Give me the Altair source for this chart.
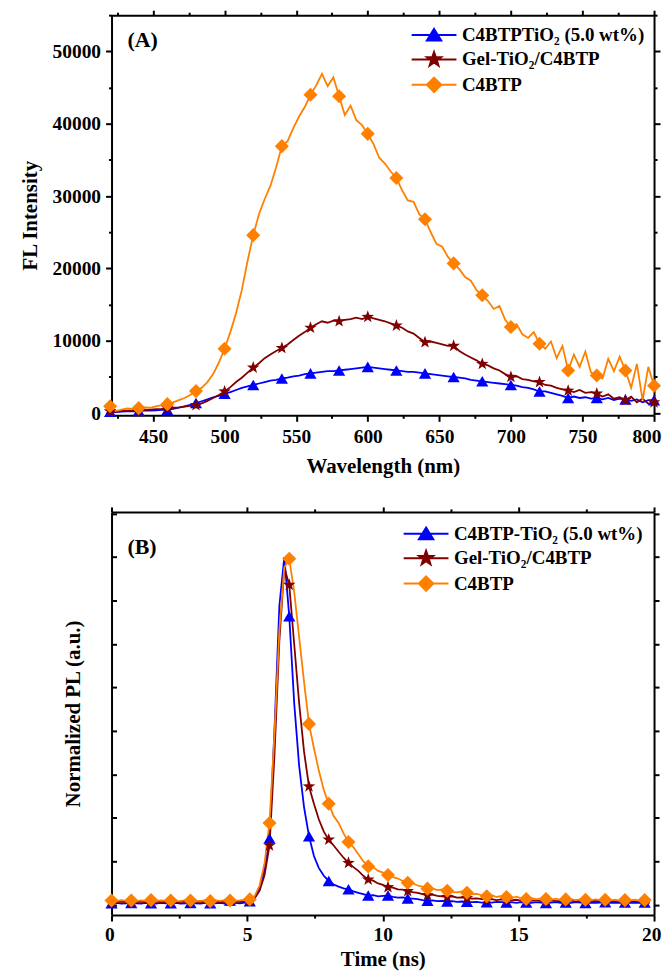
import altair as alt
import pandas as pd

FONT = "Liberation Serif"

# ---------------- Panel (A): steady-state FL spectra ----------------
a_names = ["C4BTPTiO₂ (5.0 wt%)", "Gel-TiO₂/C4BTP", "C4BTP"]
a_wl_start = 420
a_wl_step = 4
a_blue = [200, 150, 200, 250, 250, 300, 350, 350, 400, 450,
          450, 600, 750, 950, 1150, 1400, 1650, 1900, 2200, 2400,
          2700, 2900, 3200, 3500, 3700, 3900, 4100, 4300, 4500, 4600,
          4800, 4900, 5100, 5200, 5400, 5500, 5600, 5700, 5800, 5800,
          5900, 6000, 6100, 6200, 6300, 6400, 6300, 6200, 6100, 6000,
          5900, 5800, 5700, 5700, 5600, 5500, 5400, 5300, 5200, 5100,
          5000, 4900, 4800, 4600, 4500, 4400, 4300, 4200, 4100, 4000,
          3900, 3800, 3600, 3500, 3300, 3000, 3000, 2800, 2600, 2400,
          2100, 2300, 2100, 2200, 2000, 2100, 1900, 2100, 1800, 2000,
          1900, 1700, 1900, 1500, 1800, 1800]
a_red = [250, 200, 300, 350, 400, 400, 450, 500, 550, 600,
         700, 750, 800, 900, 1000, 1100, 1350, 1700, 2100, 2500,
         3000, 3600, 4300, 4900, 5600, 6300, 6900, 7600, 8100, 8600,
         9000, 9500, 10100, 10700, 11200, 11800, 12300, 12700, 12500, 12800,
         12700, 12900, 13000, 13200, 13000, 13300, 13100, 12900, 12700, 12400,
         12100, 11800, 11300, 11000, 10400, 9800, 9900, 9700, 9500, 9300,
         9300, 8600, 8100, 7700, 7300, 6800, 6600, 6200, 5900, 5400,
         5000, 5100, 4700, 4600, 4400, 4300, 3900, 3800, 3500, 3300,
         3100, 2900, 3200, 2800, 2900, 2700, 2300, 2600, 2000, 2200,
         1800, 2300, 1500, 2000, 1300, 1500]
a_orange = [950, 300, 500, 650, 600, 700, 800, 750, 950, 1100,
            1250, 1500, 1800, 2100, 2500, 3050, 3500, 4300, 5400, 7000,
            8900, 11200, 13800, 17000, 21000, 24600, 27500, 29600, 31400, 34000,
            36900, 37600, 39400, 41000, 42300, 44000, 45300, 46900, 45200, 46400,
            43800, 41200, 42500, 40500, 39800, 38600, 37200, 35300, 34500, 33400,
            32500, 30800, 29400, 29200, 27500, 26800, 25000, 23400, 23000, 21600,
            20700, 19900, 18800, 18300, 17000, 16300, 15500, 14400, 14800, 12900,
            11900, 12300, 10900, 10400, 11200, 9600, 8900, 9900, 7600, 9300,
            5900, 8100, 6400, 8500, 5600, 5200, 4800, 7500, 5800, 7800,
            5900, 3500, 6800, 1800, 6400, 3800]
a_marker_every = 5
a_x_ticks = list(range(425, 801, 25))
a_y_ticks = list(range(0, 55001, 5000))

# ---------------- Panel (B): time-resolved PL decay ----------------
b_names = ["C4BTP-TiO₂ (5.0 wt%)", "Gel-TiO₂/C4BTP", "C4BTP"]
b_t_step = 0.182
b_blue = [0.004, 0.005, 0.003, 0.004, 0.005, 0.004, 0.003, 0.005, 0.004, 0.003,
          0.005, 0.004, 0.004, 0.005, 0.003, 0.004, 0.005, 0.004, 0.003, 0.005,
          0.004, 0.004, 0.005, 0.003, 0.012, 0.005, 0.004, 0.006,
          0.010, 0.020, 0.050, 0.100, 0.190, 0.500, 0.860, 1.000, 0.830, 0.580,
          0.400, 0.280, 0.197, 0.140, 0.105, 0.083, 0.068, 0.058, 0.052, 0.047,
          0.044, 0.038, 0.034, 0.030, 0.026, 0.027, 0.024, 0.025, 0.026, 0.022,
          0.020, 0.021, 0.018, 0.017, 0.016, 0.013, 0.011, 0.012, 0.010, 0.011,
          0.009, 0.010, 0.008, 0.009, 0.008,
          0.007, 0.008, 0.006, 0.007, 0.006, 0.008, 0.007, 0.006, 0.007, 0.005,
          0.007, 0.006, 0.005, 0.007, 0.006, 0.005, 0.006, 0.007, 0.005, 0.006,
          0.005, 0.007, 0.006, 0.005, 0.006, 0.005, 0.006, 0.007, 0.005, 0.006,
          0.005, 0.006, 0.005, 0.006, 0.005, 0.006, 0.005]
b_red = [0.008, 0.007, 0.009, 0.008, 0.007, 0.009, 0.008, 0.007, 0.008, 0.009,
         0.007, 0.008, 0.009, 0.007, 0.008, 0.008, 0.007, 0.009, 0.008, 0.007,
         0.008, 0.009, 0.008, 0.007, 0.010, 0.008, 0.009, 0.010,
         0.012, 0.018, 0.040, 0.085, 0.170, 0.430, 0.760, 0.970, 0.920, 0.750,
         0.580, 0.440, 0.340, 0.290, 0.245, 0.210, 0.187, 0.170, 0.152, 0.135,
         0.120, 0.108, 0.097, 0.083, 0.072, 0.069, 0.061, 0.057, 0.050, 0.049,
         0.044, 0.043, 0.039, 0.036, 0.034, 0.030, 0.027, 0.029, 0.025, 0.024,
         0.022, 0.024, 0.020, 0.021, 0.019, 0.017, 0.018, 0.016, 0.015, 0.016,
         0.013, 0.015, 0.013, 0.012, 0.014, 0.011, 0.012, 0.011, 0.013, 0.010,
         0.011, 0.012, 0.010, 0.011, 0.010, 0.012, 0.009, 0.011, 0.010, 0.009,
         0.011, 0.010, 0.009, 0.010, 0.011, 0.009, 0.010, 0.009, 0.011, 0.009,
         0.010, 0.009]
b_orange = [0.012, 0.010, 0.013, 0.011, 0.012, 0.010, 0.012, 0.011, 0.013, 0.010,
            0.012, 0.011, 0.012, 0.010, 0.011, 0.013, 0.012, 0.010, 0.011, 0.012,
            0.010, 0.012, 0.011, 0.013, 0.012, 0.011, 0.012, 0.014,
            0.015, 0.025, 0.055, 0.120, 0.235, 0.490, 0.790, 0.970, 0.995, 0.900,
            0.770, 0.640, 0.520, 0.450, 0.385, 0.330, 0.290, 0.255, 0.235, 0.205,
            0.180, 0.165, 0.145, 0.125, 0.110, 0.108, 0.097, 0.092, 0.085, 0.079,
            0.075, 0.068, 0.063, 0.061, 0.055, 0.052, 0.046, 0.047, 0.042, 0.044,
            0.040, 0.037, 0.035, 0.038, 0.034, 0.030, 0.031, 0.027, 0.024, 0.027,
            0.022, 0.025, 0.022, 0.019, 0.023, 0.018, 0.016, 0.019, 0.015, 0.018,
            0.016, 0.014, 0.017, 0.013, 0.015, 0.016, 0.013, 0.015, 0.014, 0.012,
            0.015, 0.013, 0.014, 0.012, 0.014, 0.011, 0.013, 0.012, 0.014, 0.011,
            0.013, 0.012]
b_marker_every = 4
b_x_ticks = [0, 2.5, 5, 7.5, 10, 12.5, 15, 17.5, 20]
b_y_ticks = [0, 0.125, 0.25, 0.375, 0.5, 0.625, 0.75, 0.875, 1.0, 1.125]

colors = ["#0000FF", "#800000", "#FF8000"]

STAR = ("M0,-1L0.235,-0.324L0.951,-0.309L0.38,0.124L0.588,0.809L0,0.4"
        "L-0.588,0.809L-0.38,0.124L-0.951,-0.309L-0.235,-0.324Z")
marker_shapes = ["triangle-up", STAR, "diamond"]
# legend glyphs: a line through a small marker (unit = half symbol size)
LINE = "M-2.25,0L2.25,0"
legend_shapes = [
    LINE + "M0,-0.62L0.72,0.55L-0.72,0.55Z",
    LINE + "M0,-0.75L0.176,-0.243L0.713,-0.232L0.285,0.093L0.441,0.607L0,0.3"
           "L-0.441,0.607L-0.285,0.093L-0.713,-0.232L-0.176,-0.243Z",
    LINE + "M0,-0.72L0.72,0L0,0.72L-0.72,0Z",
]
marker_sizes = [150, 200, 190]


def build_frame(names, series, x0, step, every):
    rows = []
    for name, vals in zip(names, series):
        for k, v in enumerate(vals):
            rows.append({"series": name, "x": round(x0 + k * step, 3), "y": v,
                         "marker": k % every == 0})
    return pd.DataFrame(rows)


def major_test(step):
    return f"abs(datum.value / {step} - round(datum.value / {step})) < 1e-6"


def panel(df, names, xdom, ydom, xticks, yticks, xmajor, ymajor, xtitle, ytitle,
          tag, width, height, ylabels, ytitle_pad, tag_y, leg_offset,
          xlabel_pad, xtitle_pad):
    def sc(rng):
        return alt.Scale(domain=names, range=rng)

    leg = alt.Legend(title=None, orient="top-right", offset=leg_offset, padding=0,
                     labelFont=FONT, labelFontSize=19, labelFontWeight="bold",
                     labelColor="black", labelLimit=400, labelOffset=17,
                     symbolSize=400, symbolStrokeWidth=2, rowPadding=2.5,
                     symbolOpacity=1)

    xs = alt.Scale(domain=xdom, nice=False, zero=False)
    ys = alt.Scale(domain=ydom, nice=False, zero=False)
    xt_size = {"condition": {"test": major_test(xmajor), "value": 6}, "value": 3}
    yt_size = {"condition": {"test": major_test(ymajor), "value": 6}, "value": 3}

    x_bottom = alt.X("x:Q", scale=xs, axis=alt.Axis(
        orient="bottom", title=xtitle, values=xticks, format="d",
        labelExpr=f"{major_test(xmajor)} ? datum.label : ''",
        tickSize=xt_size, labelOverlap=False, labelFlush=True,
        labelFlushOffset=7, labelPadding=xlabel_pad, titlePadding=xtitle_pad))
    if ylabels:
        y_left = alt.Y("y:Q", scale=ys, axis=alt.Axis(
            orient="left", title=ytitle, values=yticks, format="d",
            labelExpr=f"{major_test(ymajor)} ? datum.label : ''",
            tickSize=yt_size, labelOverlap=False, labelFlush=False,
            labelPadding=5, titlePadding=ytitle_pad))
    else:
        y_left = alt.Y("y:Q", scale=ys, axis=alt.Axis(
            orient="left", title=ytitle, values=yticks, labels=False,
            tickSize=alt.ExprRef("-5"), titlePadding=ytitle_pad))

    base = alt.Chart(df)
    lines = base.mark_line(strokeWidth=1.8).encode(
        x=x_bottom, y=y_left,
        color=alt.Color("series:N", scale=sc(colors), legend=None),
        order=alt.Order("x:Q"))
    marks = base.transform_filter("datum.marker").mark_point(
        filled=True, opacity=1).encode(
        x=alt.X("x:Q", scale=xs, axis=None), y=alt.Y("y:Q", scale=ys, axis=None),
        color=alt.Color("series:N", scale=sc(colors), legend=None),
        shape=alt.Shape("series:N", scale=sc(marker_shapes), legend=None),
        size=alt.Size("series:N", scale=sc(marker_sizes), legend=None))
    legend_layer = base.transform_filter("false").mark_point(
        filled=True, opacity=1, size=400, strokeWidth=2).encode(
        x=alt.X("x:Q", scale=xs, axis=alt.Axis(
            orient="top", title=None, values=xticks, labels=False,
            tickSize={"condition": {"test": major_test(xmajor), "value": 5},
                      "value": 3})),
        y=alt.Y("y:Q", scale=ys, axis=alt.Axis(
            orient="right", title=None, values=yticks, labels=False,
            tickSize=yt_size if ylabels else 5)),
        color=alt.Color("series:N", scale=sc(colors), legend=leg),
        stroke=alt.Stroke("series:N", scale=sc(colors), legend=leg),
        shape=alt.Shape("series:N", scale=sc(legend_shapes), legend=leg))
    tag_layer = alt.Chart(pd.DataFrame({"t": [tag]})).mark_text(
        align="left", baseline="middle", font=FONT, fontSize=22,
        fontWeight="bold", color="black").encode(
        text="t:N", x=alt.value(16), y=alt.value(tag_y))

    return alt.layer(lines, marks, legend_layer, tag_layer).resolve_scale(
        color="independent", shape="independent", stroke="independent",
        size="independent").resolve_axis(
        x="independent", y="independent").properties(width=width, height=height)


df_a = build_frame(a_names, [a_blue, a_red, a_orange], a_wl_start, a_wl_step,
                   a_marker_every)
df_b = build_frame(b_names, [b_blue, b_red, b_orange], 0.0, b_t_step,
                   b_marker_every)

chart_a = panel(df_a, a_names, [421, 800], [-300, 55000], a_x_ticks, a_y_ticks,
                50, 10000, "Wavelength (nm)", "FL Intensity", "(A)", 545, 402,
                True, 12, 25, 9, 6, 10)
chart_b = panel(df_b, b_names, [0, 20], [-0.03, 1.13], b_x_ticks, b_y_ticks,
                5, 0.125, "Time (ns)", "Normalized PL (a.u.)", "(B)", 545, 405,
                False, 27, 35, 11, 5, 4)

chart = alt.vconcat(chart_a, chart_b, spacing=29).configure(
    padding={"left": 11, "top": -5, "right": 0, "bottom": 0}
).configure_axis(
    labelFont=FONT, labelFontSize=19.5, labelFontWeight="bold", labelColor="black",
    titleFont=FONT, titleFontSize=21, titleFontWeight="bold", titleColor="black",
    domainColor="black", domainWidth=2, tickColor="black", tickWidth=2,
    grid=False
).configure_view(stroke=None)

chart.save("out.html", embed_options={"renderer": "svg", "actions": False})
